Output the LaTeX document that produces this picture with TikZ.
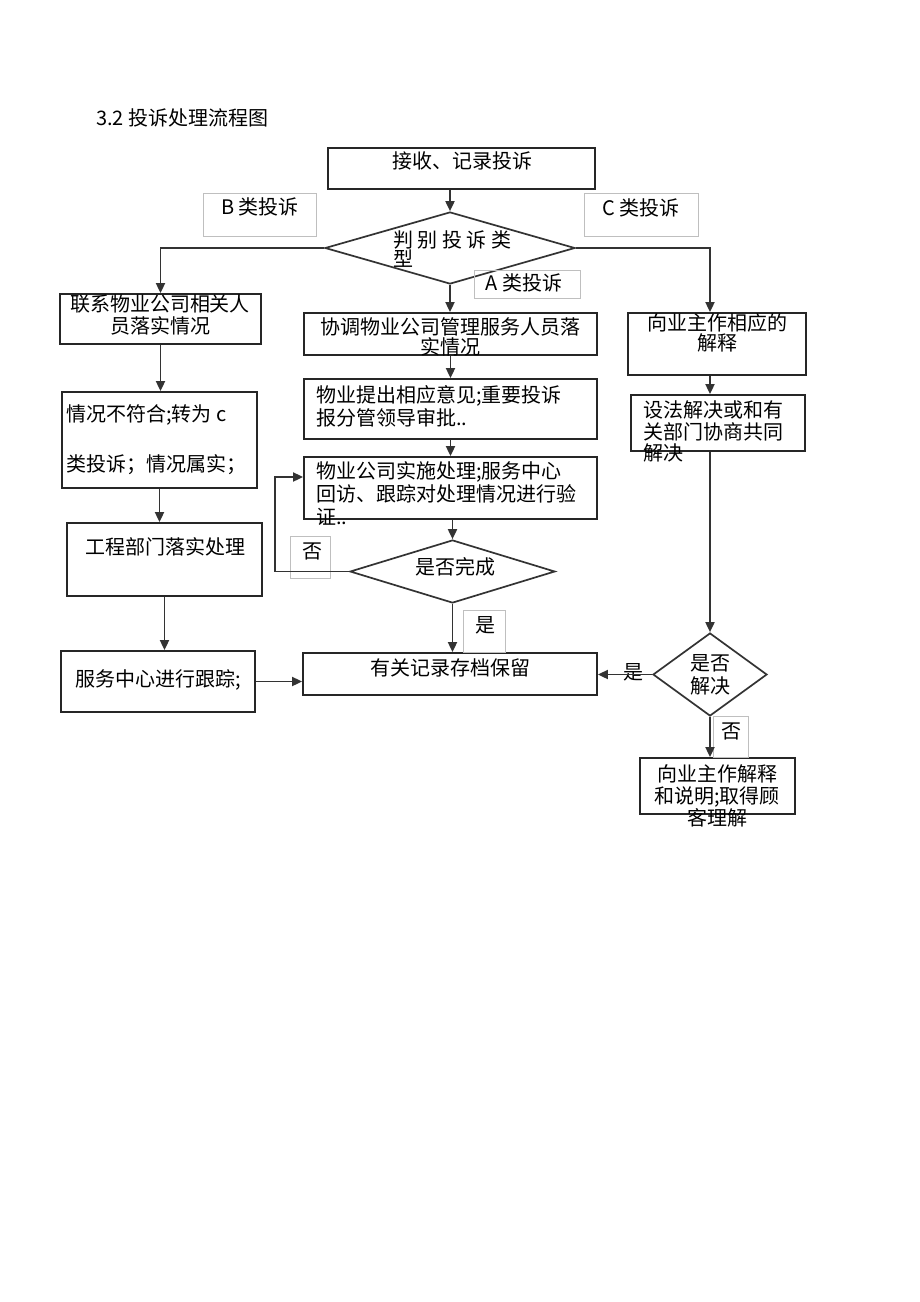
\documentclass[tikz,border=0pt]{standalone}
\usepackage{fontspec}
\setmainfont{Liberation Serif}
\newfontfamily\cjk{Noto Sans CJK SC}
\usetikzlibrary{arrows.meta,shapes.geometric,positioning}

\tikzset{
  box/.style={draw=black!85,line width=1.8pt,inner sep=0pt},
  tagbox/.style={draw=black!25,line width=0.5pt,inner sep=0pt},
  decide/.style={diamond,draw=black!80,line width=1.7pt,inner sep=0pt},
  txt/.style={font=\cjk\fontsize{20}{22}\selectfont,inner sep=0pt},
  line/.style={draw=black!80,line width=1.8pt},
  arr/.style={line,-{Triangle[length=10pt,width=9pt]}}
}

\begin{document}
\begin{tikzpicture}[x=1pt,y=-1pt]
\fill[white] (0,0) rectangle (920,1302);
\useasboundingbox (0,0) rectangle (920,1302);

% title
\node[txt,anchor=west] (title) at (96,118) {3.2 投诉处理流程图};

% boxes
\node[box,minimum width=267pt,minimum height=41pt] (recv) at (461.5,168.5) {};
\node[decide,minimum width=250pt,minimum height=72pt] (judge) at (450,248) {};
\node[box,minimum width=201pt,minimum height=50pt] (contact) at (160.5,319) {};
\node[box,minimum width=195pt,minimum height=96pt] (verify) at (159.5,440) {};
\node[box,minimum width=195pt,minimum height=73pt] (eng) at (164.5,559.5) {};
\node[box,minimum width=194pt,minimum height=61pt] (track) at (158,681.5) {};
\node[box,minimum width=293pt,minimum height=42pt] (coord) at (450.5,334) {};
\node[box,minimum width=293pt,minimum height=60pt] (opinion) at (450.5,409) {};
\node[box,minimum width=293pt,minimum height=62pt] (handle) at (450.5,488) {};
\node[decide,minimum width=205pt,minimum height=63pt] (done) at (452.5,571.5) {};
\node[box,minimum width=294pt,minimum height=42pt] (rec) at (450,674) {};
\node[box,minimum width=178pt,minimum height=62pt] (explain) at (717,344) {};
\node[box,minimum width=174pt,minimum height=56pt] (solve) at (718,423) {};
\node[decide,minimum width=114pt,minimum height=83pt] (solved) at (710,674.5) {};
\node[box,minimum width=155pt,minimum height=56pt] (final) at (717.5,786) {};

% tag boxes
\node[tagbox,minimum width=113pt,minimum height=43pt] (tagB) at (259.5,214.5) {};
\node[tagbox,minimum width=114pt,minimum height=43pt] (tagC) at (641,214.5) {};
\node[tagbox,minimum width=106pt,minimum height=28pt] (tagA) at (527,284) {};
\node[tagbox,minimum width=40pt,minimum height=42pt] (tagno) at (310,557) {};
\node[tagbox,minimum width=42pt,minimum height=42pt] (tagyes) at (484,631) {};
\node[tagbox,minimum width=35pt,minimum height=41pt] (tagno2) at (730.5,736.5) {};

% texts
\node[txt] (recv-t) at (462,161) {接收、记录投诉};
\node[txt,align=left,anchor=west,font=\cjk\fontsize{20}{19}\selectfont] (judge-t) at (393,249) {判 别 投 诉 类\\型};
\node[txt,align=center] (contact-t) at (160,315) {联系物业公司相关人\\员落实情况};
\node[txt,align=left,anchor=west] (verify-t) at (66,440) {情况不符合;转为 c\\[28pt]类投诉；情况属实；};
\node[txt] (eng-t) at (165,547) {工程部门落实处理};
\node[txt] (track-t) at (158,680) {服务中心进行跟踪;};
\node[txt,align=center,font=\cjk\fontsize{20}{20}\selectfont] (coord-t) at (450,337) {协调物业公司管理服务人员落\\实情况};
\node[txt,align=left,anchor=west,font=\cjk\fontsize{20}{23}\selectfont] (opinion-t) at (316,406.5) {物业提出相应意见;重要投诉\\报分管领导审批..};
\node[txt,align=left,anchor=west,font=\cjk\fontsize{20}{23}\selectfont] (handle-t) at (316,494) {物业公司实施处理;服务中心\\回访、跟踪对处理情况进行验\\证..};
\node[txt] (done-t) at (455,567) {是否完成};
\node[txt] (rec-t) at (450,668) {有关记录存档保留};
\node[txt,align=center,font=\cjk\fontsize{20}{20}\selectfont] (explain-t) at (717,333) {向业主作相应的\\解释};
\node[txt,align=left,anchor=west,font=\cjk\fontsize{20}{21.5}\selectfont] (solve-t) at (643,431.5) {设法解决或和有\\关部门协商共同\\解决};
\node[txt,align=center,font=\cjk\fontsize{20}{23}\selectfont] (solved-t) at (710,674.5) {是否\\解决};
\node[txt,align=center] (final-t) at (717,796) {向业主作解释\\和说明;取得顾\\客理解};
\node[txt] (tagB-t) at (260,207) {B 类投诉};
\node[txt] (tagC-t) at (641,208) {C 类投诉};
\node[txt] (tagA-t) at (524,283) {A 类投诉};
\node[txt] (tagno-t) at (312,551) {否};
\node[txt] (tagyes-t) at (485,625) {是};
\node[txt] (tagno2-t) at (731,731) {否};
\node[txt] (yes2-t) at (633,672) {是};

% connectors
\coordinate (loop) at (275,477);
\draw[arr] (judge.north |- recv.south) -- (judge.north);
\draw[arr] (judge.west) -| (contact.north);
\draw[arr] (contact.south) -- (contact.south |- verify.north);
\draw[arr] (verify.south) -- (verify.south |- eng.north);
\draw[arr] (eng.south) -- (eng.south |- track.north);
\draw[arr] (track.east) -- (track.east -| rec.west);
\draw[arr] (judge.south) -- (judge.south |- coord.north);
\draw[arr] (coord.south) -- (opinion.north);
\draw[arr] (opinion.south) -- (handle.north);
\draw[arr] (done.north |- handle.south) -- (done.north);
\draw[arr] (done.west) -| (loop) -- (loop -| handle.west);
\draw[arr] (done.south) -- (done.south |- rec.north);
\draw[arr] (judge.east) -| (explain.north -| solved.north);
\draw[arr] (explain.south -| solved.north) -- (solve.north -| solved.north);
\draw[arr] (solved.north |- solve.south) -- (solved.north);
\draw[arr] (solved.south) -- (solved.south |- final.north);
\draw[arr] (solved.west) -- (solved.west -| rec.east);
\end{tikzpicture}
\end{document}
